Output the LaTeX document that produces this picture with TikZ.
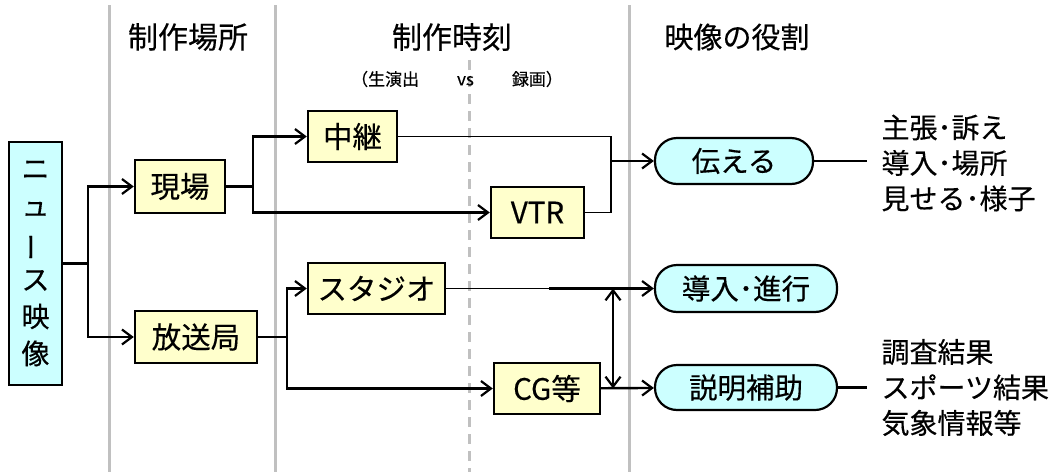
\documentclass[tikz,border=0pt]{standalone}
\usepackage{fontspec}
\setmainfont{Noto Sans CJK JP}[FakeBold=0.35]
\usepackage{graphicx}
\usetikzlibrary{arrows.meta}
\definecolor{boxyellow}{HTML}{FFFFCC}
\definecolor{boxcyan}{HTML}{CCFFFF}
\definecolor{sepgray}{HTML}{C0C0C0}
\begin{document}
\begin{tikzpicture}[x=1pt,y=-1pt,
  ybox/.style={draw=black,line width=2.4pt,fill=boxyellow,inner sep=0pt,font=\fontsize{29.5}{29.5}\selectfont},
  cbox/.style={draw=black,line width=2.4pt,fill=boxcyan,inner sep=0pt},
  stad/.style={draw=black,line width=2.2pt,fill=boxcyan,inner sep=0pt,rounded corners=22pt,font=\fontsize{28.5}{28.5}\selectfont},
  conn/.style={line width=2.4pt},
  thinconn/.style={line width=1.5pt},
  arr/.style={conn,-{Straight Barb[length=10pt,width=15pt,line width=2.2pt]}},
  arrboth/.style={conn,{Straight Barb[length=10pt,width=15pt,line width=2.2pt]}-{Straight Barb[length=10pt,width=15pt,line width=2.2pt]}},
  sep/.style={draw=sepgray,line width=3pt},
  hdr/.style={font=\fontsize{30}{30}\selectfont},
  lst/.style={font=\fontsize{28}{35.5}\selectfont,align=left,anchor=west}
]
\useasboundingbox (0,0) rectangle (1061,472);
% separators
\draw[sep] (109,5) -- (109,472);
\draw[sep] (275,5) -- (275,472);
\draw[sep] (629,5) -- (629,472);
\draw[sep,dash pattern=on 10pt off 7pt] (469,60) -- (469,472);
% headers
\node[hdr] (h1) at (188,37) {制作場所};
\node[hdr] (h2) at (452,37) {制作時刻};
\node[hdr,font=\fontsize{29}{29}\selectfont] (h3) at (737,37) {映像の役割};
\node[font=\fontsize{17}{17}\selectfont] (h4) at (457,79) {（生演出\hspace{38pt}vs\hspace{38pt}録画）};
% nodes
\node[cbox,minimum width=53pt,minimum height=243pt,align=center,font=\fontsize{28}{37}\selectfont] (news) at (35.5,263.5)
  {ニ\\ュ\\\rotatebox[origin=c]{90}{ー}\\ス\\映\\像};
\node[ybox,minimum width=90pt,minimum height=53pt] (genba) at (180,186.5) {現場};
\node[ybox,minimum width=122pt,minimum height=52pt] (housou) at (196,337) {放送局};
\node[ybox,minimum width=89pt,minimum height=51pt] (chukei) at (352.5,136.5) {中継};
\node[ybox,minimum width=93pt,minimum height=51pt] (vtr) at (537.5,212.5) {VTR};
\node[ybox,minimum width=137pt,minimum height=51pt] (studio) at (376.5,288.5) {スタジオ};
\node[ybox,minimum width=106pt,minimum height=51pt] (cg) at (547,388.5) {CG等};
\node[stad,minimum width=158pt,minimum height=46pt] (tsutaeru) at (734,161) {伝える};
\node[stad,minimum width=182pt,minimum height=47pt] (dounyu) at (746,288.5) {導入･進行};
\node[stad,minimum width=182pt,minimum height=45pt] (setsumei) at (746,387.5) {説明補助};
\node[lst] (list1) at (878,163) {主張･訴え\\導入･場所\\見せる･様子};
\node[lst] (list2) at (878,387.5) {調査結果\\スポーツ結果\\気象情報等};
% junctions
\coordinate (j1) at (88,263.5);
\coordinate (j2) at (253,186.5);
\coordinate (j3) at (611,161);
\coordinate (j4) at (287,337);
\coordinate (k1) at (549,288.5);
\coordinate (d1) at (613,288.5);
\coordinate (d2) at (613,388.5);
\coordinate (t1) at (867,161);
\coordinate (t2) at (867,387.5);
% connectors
\draw[conn] (news.east) -- (j1);
\draw[arr] (j1) |- (genba);
\draw[arr] (j1) |- (housou);
\draw[conn] (genba) -- (j2);
\draw[arr] (j2) |- (chukei);
\draw[arr] (j2) |- (vtr);
\draw[thinconn] (chukei) -| (j3);
\draw[thinconn] (vtr) -| (j3);
\draw[arr] (j3) -- (tsutaeru);
\draw[conn] (tsutaeru) -- (t1);
\draw[conn] (housou) -- (j4);
\draw[arr] (j4) |- (studio);
\draw[arr] (j4) |- (cg);
\draw[thinconn] (studio) -- (k1);
\draw[arr] (k1) -- (dounyu);
\draw[arr] (cg) -- (setsumei);
\draw[arrboth] (d1) -- (d2);
\draw[conn] (setsumei) -- (t2);
\end{tikzpicture}
\end{document}
